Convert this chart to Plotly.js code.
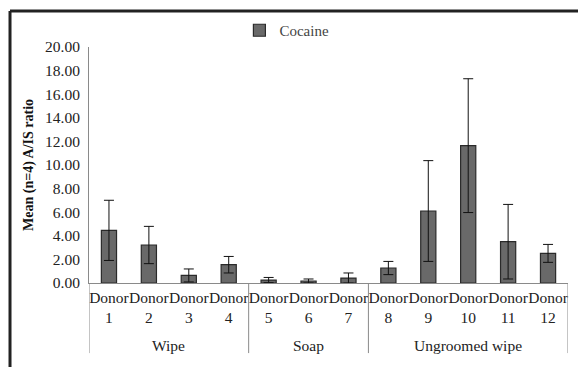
<!DOCTYPE html>
<html>
<head>
<meta charset="utf-8">
<script src="https://cdn.plot.ly/plotly-3.0.1.min.js"></script>
<style>
html,body{margin:0;padding:0;background:#fff;}
#chart{width:578px;height:367px;}
</style>
</head>
<body>
<div id="chart"></div>
<script>
const donorNumbers = ["1","2","3","4","5","6","7","8","9","10","11","12"];
const cocaineMeans = [4.46, 3.22, 0.64, 1.55, 0.25, 0.17, 0.42, 1.27, 6.10, 11.64, 3.50, 2.51];
const cocaineErrors = [2.55, 1.58, 0.55, 0.70, 0.22, 0.17, 0.43, 0.56, 4.27, 5.67, 3.16, 0.76];
const groupNames = ["Wipe", "Soap", "Ungroomed wipe"];
const groupSizes = [4, 3, 5];
const yTickVals = [0, 2, 4, 6, 8, 10, 12, 14, 16, 18, 20];

const FONT = 'Liberation Serif';
const xCats = donorNumbers.map(n => "Donor " + n);
const xText = donorNumbers.map(n => "Donor<br>" + n);

const shapes = [];
const annotations = [];
let start = 0;
const bounds = [-0.5];
groupSizes.forEach((s, i) => {
  const end = start + s;
  bounds.push(end - 0.5);
  annotations.push({
    x: (start + end - 1) / 2, xref: 'x', y: -0.266, yref: 'paper',
    text: groupNames[i], showarrow: false,
    font: {family: FONT, size: 15.5, color: '#222'},
    xanchor: 'center', yanchor: 'middle'
  });
  start = end;
});
bounds.forEach(b => {
  shapes.push({type: 'line', xref: 'x', yref: 'paper', x0: b, x1: b, y0: 0, y1: -0.297,
    line: {color: '#8a8a8a', width: 1}});
});
shapes.push({type: 'line', xref: 'paper', yref: 'paper', x0: -0.1649, x1: -0.1649, y0: 1.1525, y1: -0.36,
  line: {color: '#222', width: 3}});
shapes.push({type: 'line', xref: 'paper', yref: 'paper', x0: -0.1649, x1: 1.03, y0: 1.1525, y1: 1.1525,
  line: {color: '#222', width: 3}});

const trace = {
  type: 'bar',
  name: 'Cocaine',
  x: xCats,
  y: cocaineMeans,
  marker: {color: '#696969', line: {color: '#2a2a2a', width: 1.2}},
  error_y: {type: 'data', array: cocaineErrors, visible: true, color: '#111', thickness: 1, width: 5}
};

const layout = {
  width: 578, height: 367,
  margin: {l: 89, r: 10, t: 47, b: 84},
  paper_bgcolor: '#fff', plot_bgcolor: '#fff',
  font: {family: FONT, size: 15.5, color: '#222'},
  bargap: 0.62,
  showlegend: true,
  legend: {orientation: 'h', x: 0.314, xanchor: 'left', y: 1.07, yanchor: 'middle',
    font: {family: FONT, size: 15, color: '#444'}, itemwidth: 30, bgcolor: 'rgba(0,0,0,0)'},
  xaxis: {
    type: 'category', tickvals: xCats, ticktext: xText, tickangle: 0,
    showline: true, linecolor: '#8a8a8a', linewidth: 1,
    ticks: '', showgrid: false, zeroline: false,
    tickfont: {family: FONT, size: 15.5, color: '#222'},
    range: [-0.5, 11.5]
  },
  yaxis: {
    range: [0, 20], tickvals: yTickVals, tickformat: '.2f',
    showline: true, linecolor: '#8a8a8a', linewidth: 1,
    ticks: '', showgrid: false, zeroline: false,
    ticklabelstandoff: 5,
    tickfont: {family: FONT, size: 15.5, color: '#222'},
    title: {text: 'Mean (n=4) A/IS ratio', standoff: 8,
      font: {family: FONT, size: 14, color: '#111', weight: 'bold'}}
  },
  shapes: shapes,
  annotations: annotations
};

Plotly.newPlot('chart', [trace], layout, {displayModeBar: false, staticPlot: true});
</script>
</body>
</html>
